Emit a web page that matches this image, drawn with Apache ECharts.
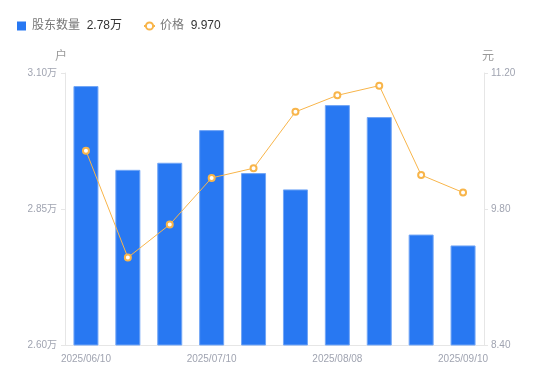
<!DOCTYPE html>
<html><head><meta charset="utf-8">
<script src="https://cdn.jsdelivr.net/npm/echarts@6/dist/echarts.min.js"></script>
<style>html,body{margin:0;padding:0;background:#fff}#c{width:550px;height:381px}</style>
</head><body><div id="c"></div>
<script>
var categories = ['2025/06/10','2025/06/20','2025/06/30','2025/07/10','2025/07/18','2025/07/31','2025/08/08','2025/08/20','2025/08/29','2025/09/10'];
var holders = [3.076, 2.922, 2.935, 2.995, 2.916, 2.886, 3.041, 3.019, 2.803, 2.783];
var prices = [10.40, 9.30, 9.64, 10.12, 10.22, 10.80, 10.97, 11.07, 10.15, 9.970];
var leftTicks = [2.60, 2.85, 3.10];
var rightTicks = [8.40, 9.80, 11.20];

var chart = echarts.init(document.getElementById('c'));
var font = 'Liberation Sans, Noto Sans CJK SC, sans-serif';
var labelColor = '#a0a4b1';
var lineColor = '#e6e6e6';
var lastVals = {'股东数量': holders[holders.length-1].toFixed(2) + '万', '价格': prices[prices.length-1].toFixed(3)};
chart.setOption({
  animation: false,
  textStyle: {fontFamily: font},
  legend: {
    left: 12, top: 15, itemWidth: 11, itemHeight: 9, itemGap: 21,
    data: [{name: '股东数量', icon: 'path://M0,0H9V9H0Z', itemStyle: {borderWidth: 0, color: '#2878f2'}}, {name: '价格'}],
    formatter: function (n) { return '{n|' + n + '}  {v|' + lastVals[n] + '}'; },
    textStyle: {rich: {n: {color: '#777', fontSize: 12, fontFamily: font}, v: {color: '#333', fontSize: 12, fontFamily: font}}}
  },
  grid: {left: 65, right: 66, top: 73, bottom: 36},
  xAxis: {type: 'category', data: categories, boundaryGap: true,
     axisLine: {lineStyle: {color: lineColor}}, axisTick: {show: false},
     axisLabel: {color: labelColor, fontSize: 10, margin: 9, interval: 2, fontFamily: font}},
  yAxis: [
    {type: 'value', min: 2.60, max: 3.10, name: '户', nameGap: 10,
     nameTextStyle: {color: '#999', fontSize: 12, align: 'right', padding: [0, -2, 0, 0]},
     axisLine: {show: true, lineStyle: {color: lineColor}},
     axisTick: {show: true, length: 4, lineStyle: {color: lineColor}, customValues: leftTicks},
     axisLabel: {color: labelColor, fontSize: 10, margin: 8, customValues: leftTicks,
       formatter: function (v) { return v.toFixed(2) + '万'; }},
     splitLine: {show: false}},
    {type: 'value', min: 8.40, max: 11.20, position: 'right', name: '元', nameGap: 10,
     nameTextStyle: {color: '#999', fontSize: 12, align: 'left', padding: [0, 0, 0, -2]},
     axisLine: {show: true, lineStyle: {color: lineColor}},
     axisTick: {show: true, length: 4, lineStyle: {color: lineColor}, customValues: rightTicks},
     axisLabel: {color: labelColor, fontSize: 10, margin: 7, customValues: rightTicks,
       formatter: function (v) { return v.toFixed(2); }},
     splitLine: {show: false}}
  ],
  series: [
    {name: '股东数量', type: 'bar', yAxisIndex: 0, data: holders, barWidth: 25,
     itemStyle: {color: '#2878f2', borderColor: '#72a6f6', borderWidth: 1}},
    {name: '价格', type: 'line', yAxisIndex: 1, data: prices,
     symbol: 'emptyCircle', symbolSize: 6, showAllSymbol: true,
     lineStyle: {color: '#f8b54a', width: 1},
     itemStyle: {color: '#f8b54a', borderWidth: 1.6}}
  ]
});
</script></body></html>
